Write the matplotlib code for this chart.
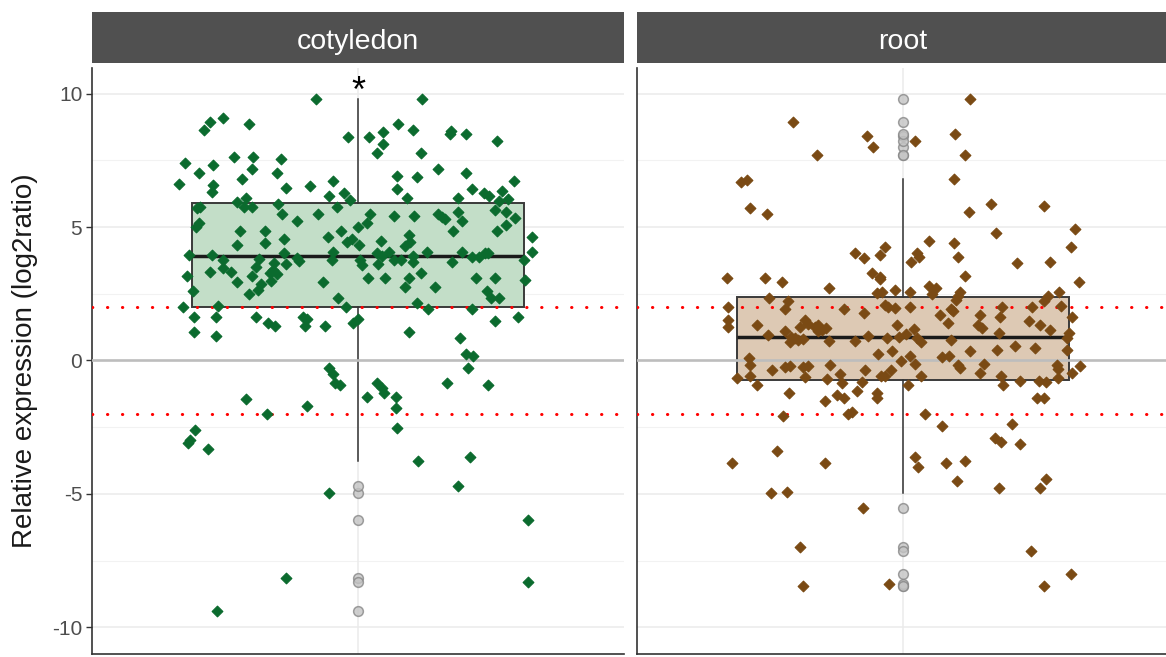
import numpy as np
import matplotlib.pyplot as plt

plt.rcParams['font.family'] = ['Liberation Sans', 'DejaVu Sans']
plt.rcParams['axes.unicode_minus'] = False

# facet names
tissues = ['cotyledon', 'root']

# jitter offsets (category units) and log2 ratios
cot_x = [-0.095, -0.305, -0.334, -0.348, -0.246, -0.023, -0.391, -0.327, -0.280, -0.237,
         -0.174, -0.239, -0.359, -0.183, -0.404, -0.327, -0.330, -0.262, -0.163, -0.108,
         -0.056, -0.065, -0.032, -0.018, -0.273, -0.253, -0.257, -0.239, -0.357, -0.363,
         -0.181, -0.047, -0.172, -0.090, -0.138, -0.359, -0.366, -0.266, -0.210, -0.038,
         0.0, -0.068, -0.167, -0.014, -0.025, -0.273, -0.210, -0.056, -0.167, -0.381,
         -0.330, -0.059, -0.138, -0.133, -0.305, -0.223, 0.005, -0.163, -0.305, -0.230,
         -0.190, -0.334, -0.287, -0.192, -0.199, -0.239, -0.386, -0.183, -0.273, -0.196,
         -0.079, -0.219, -0.226, -0.372, -0.246, -0.045, -0.395, -0.316, -0.027, -0.370,
         -0.321, -0.230, -0.124, -0.115, -0.203, -0.187, -0.120, -0.074, -0.011, -0.370, -0.321,
         0.145, 0.090, 0.025, 0.056, 0.056, 0.042, 0.123, 0.141, 0.210, 0.208,
         0.244, 0.313, 0.180, 0.244, 0.089, 0.133, 0.089, 0.257, 0.111, 0.351,
         0.324, 0.285, 0.296, 0.226, 0.317, 0.338, 0.026, 0.021, 0.081, 0.127,
         0.181, 0.190, 0.196, 0.226, 0.235, 0.308, 0.333, 0.354, 0.333, 0.214,
         0.313, 0.114, 0.117, 0.106, 0.051, 0.003, 0.392, 0.393, 0.042, 0.071,
         0.155, 0.234, 0.054, 0.082, 0.097, 0.125, 0.123, 0.010, 0.046, 0.212,
         0.257, 0.272, 0.287, 0.294, 0.375, 0.142, 0.022, 0.061, 0.115, 0.266,
         0.308, 0.377, 0.106, 0.174, 0.291, 0.300, 0.317, 0.133, 0.158, 0.258,
         -0.001, 0.308, 0.360, 0.115, 0.230, 0.244, 0.260,
         -0.065, -0.056, -0.041, -0.052, -0.253, -0.116, -0.206, -0.368, -0.378, -0.383,
         -0.338, -0.065, -0.163, -0.317,
         0.248, 0.042, 0.054, 0.059, 0.021, 0.085, 0.085, 0.201, 0.294, 0.089,
         0.136, 0.253, 0.226, 0.383, 0.383]
cot_y = [9.79, 9.10, 8.95, 8.64, 8.86, 8.39, 7.41, 7.33, 7.64, 7.64,
         7.55, 7.17, 7.02, 7.02, 6.62, 6.58, 6.33, 6.79, 6.48, 6.54,
         6.74, 6.17, 6.27, 6.02, 5.95, 6.10, 5.76, 5.76, 5.76, 5.72,
         5.85, 5.76, 5.48, 5.48, 5.24, 5.17, 5.01, 4.87, 4.87, 4.87,
         5.01, 4.64, 4.54, 4.54, 4.45, 4.33, 4.42, 4.08, 4.02, 3.95,
         3.95, 3.77, 3.83, 3.74, 3.77, 3.79, 3.77, 3.62, 3.46, 3.49,
         3.64, 3.33, 3.33, 3.39, 3.27, 3.17, 3.17, 3.24, 2.94, 2.99,
         2.94, 2.87, 2.64, 2.62, 2.48, 2.33, 1.99, 2.04, 2.02, 1.62,
         1.62, 1.62, 1.62, 1.54, 1.39, 1.29, 1.29, 1.29, 1.39, 1.08, 0.92,
         9.79, 8.86, 8.39, 8.55, 8.10, 7.79, 8.64, 7.79, 8.61, 8.48,
         8.49, 8.24, 7.17, 7.02, 6.93, 6.87, 6.42, 6.42, 6.10, 6.73,
         6.35, 6.27, 6.18, 6.10, 5.99, 6.04, 5.49, 5.17, 5.42, 5.42,
         5.49, 5.37, 5.29, 5.58, 5.24, 5.64, 5.57, 5.33, 5.08, 4.87,
         4.85, 4.70, 4.45, 4.30, 4.48, 4.33, 4.64, 4.08, 4.02, 4.08,
         4.08, 4.08, 3.92, 3.77, 3.77, 3.92, 3.70, 3.58, 3.62, 3.70,
         3.87, 3.87, 4.02, 4.02, 3.77, 3.27, 3.08, 3.08, 3.08, 3.08,
         3.08, 3.02, 2.77, 2.77, 2.62, 2.33, 2.33, 2.17, 1.92, 1.92,
         1.54, 1.48, 1.62, 1.08, 0.85, 0.24, 0.17,
         -0.29, -0.52, -0.92, -0.84, -1.45, -1.69, -2.01, -2.60, -2.98, -3.08,
         -3.32, -4.98, -8.16, -9.39,
         -0.29, -0.83, -1.04, -1.23, -1.38, -1.38, -1.77, -0.83, -0.92, -2.52,
         -3.77, -3.61, -4.69, -5.99, -8.31]

root_x = [-0.247, -0.195, -0.082, -0.067, -0.365, -0.351, -0.345, -0.306, -0.396, -0.311,
          -0.272, -0.168, -0.108, -0.087, -0.053, -0.040, -0.070, -0.053, -0.053, -0.018,
          0.152, 0.028, 0.118, 0.139, 0.114, 0.199, 0.319, 0.148, 0.210, 0.387,
          0.379, 0.058, 0.114, 0.031, 0.037, 0.019, 0.125, 0.258, 0.332, 0.139,
          0.396, 0.058, 0.074, 0.128, 0.124, 0.119, 0.353, 0.327, 0.317, -0.059,
          -0.048, 0.016, 0.065,
          -0.302, -0.260, -0.266, -0.395, -0.395, -0.395, -0.134, -0.088, -0.040, -0.033,
          -0.018, -0.330, -0.221, -0.215, -0.198, -0.191, -0.183, -0.174, -0.191, -0.232,
          -0.267, -0.305, -0.252, -0.243, -0.255, -0.225, -0.236, -0.168, -0.108, -0.078,
          -0.037, -0.010, -0.014, -0.057, -0.024, -0.004, -0.347, -0.345, -0.296, -0.266,
          -0.255, -0.225, -0.215, -0.164, -0.085, -0.027, -0.374, -0.344, -0.222, -0.172,
          -0.142, -0.137, -0.093, -0.049, -0.040, -0.330,
          0.016, 0.109, 0.112, 0.223, 0.174, 0.084, 0.101, 0.219, 0.291, 0.357,
          0.381, 0.285, 0.310, 0.332, 0.169, 0.178, 0.024, 0.006, 0.216, 0.374,
          0.370, 0.031, 0.041, 0.109, 0.152, 0.212, 0.253, 0.297, 0.370, 0.016,
          0.088, 0.104, 0.028, 0.125, 0.129, 0.182, 0.174, 0.347, 0.349, 0.400,
          0.381, 0.041, 0.222, 0.263, 0.306, 0.323, 0.349, 0.011, 0.225,
          -0.104, -0.059, -0.058, -0.258, -0.177, -0.149, -0.134, -0.271, -0.116, -0.123,
          -0.285, -0.386, -0.177, -0.298, -0.262, -0.091, -0.232, -0.225, -0.031, 0.302,
          0.319, 0.050, 0.088, 0.246, 0.208, 0.222, 0.263, 0.028, 0.033, 0.098,
          0.139, 0.121, 0.216, 0.310, 0.323, 0.289, 0.379, 0.319]
root_y = [8.94, 7.70, 8.41, 8.01, 6.69, 6.78, 5.73, 5.48, 3.08, 3.08,
          2.95, 2.71, 4.02, 3.85, 3.95, 4.27, 3.27, 3.14, 3.04, 2.64,
          9.79, 8.24, 8.48, 7.70, 6.79, 5.87, 5.79, 5.55, 4.79, 4.93,
          4.24, 4.48, 4.39, 4.04, 3.87, 3.70, 3.87, 3.64, 3.70, 3.17,
          2.95, 2.79, 2.71, 2.58, 2.42, 2.27, 2.58, 2.42, 2.24, 2.52,
          2.58, 2.57, 2.49,
          2.34, 2.24, 1.94, 1.99, 1.53, 1.24, 1.94, 1.78, 2.09, 1.99,
          1.97, 1.32, 1.53, 1.37, 1.24, 1.34, 1.15, 1.22, 1.09, 1.24,
          1.09, 0.94, 0.87, 0.84, 0.69, 0.82, 0.78, 0.72, 0.74, 0.91,
          0.84, 0.87, 1.32, 0.24, 0.34, -0.01, 0.09, -0.18, -0.34, -0.25,
          -0.22, -0.25, -0.22, -0.18, -0.34, -0.34, -0.66, -0.59, -0.63, -0.68,
          -0.51, -0.84, -0.81, -0.59, -0.59, -0.91,
          1.99, 1.94, 1.84, 1.99, 1.72, 1.72, 1.41, 1.62, 1.99, 2.03,
          1.62, 1.47, 1.34, 1.15, 1.34, 1.22, 1.19, 0.99, 1.03, 1.03,
          0.84, 0.84, 0.69, 0.78, 0.34, 0.40, 0.53, 0.47, 0.40, 0.16,
          0.12, 0.16, -0.13, -0.18, -0.28, -0.13, -0.47, -0.18, -0.31, -0.22,
          -0.47, -0.59, -0.59, -0.76, -0.76, -0.81, -0.66, -0.93, -0.93,
          -1.14, -1.23, -1.39, -1.23, -1.52, -1.29, -1.39, -2.07, -1.92, -2.02,
          -3.38, -3.83, -3.83, -4.98, -4.92, -5.54, -7.00, -8.45, -8.39, -1.39,
          -1.39, -2.01, -2.45, -2.38, -2.89, -3.07, -3.14, -3.61, -4.00, -3.83,
          -3.77, -4.52, -4.77, -4.77, -4.45, -7.14, -8.00, -8.45]

# quartiles (q1, median, q3)
cot_box = [1.99, 3.93, 5.91]
root_box = [-0.73, 0.87, 2.37]

point_colors = ['#0B6B2E', '#7A4A14']
fill_colors = ['#C3DEC8', '#DDC9B4']
cutoff = 2

W, H = 1166, 657
fig = plt.figure(figsize=(W / 100, H / 100), dpi=100)


def rect(x0, y0, x1, y1):
    return [x0 / W, 1 - y1 / H, (x1 - x0) / W, (y1 - y0) / H]


def box_stats(y, q):
    y = np.asarray(y)
    iqr = q[2] - q[0]
    lo = y[y >= q[0] - 1.5 * iqr].min()
    hi = y[y <= q[2] + 1.5 * iqr].max()
    return dict(q1=q[0], med=q[1], q3=q[2], whislo=lo, whishi=hi,
                fliers=y[(y < lo) | (y > hi)])


panel_x = [(92, 624), (637, 1169)]
data = [(cot_x, cot_y, cot_box), (root_x, root_y, root_box)]

for i, name in enumerate(tissues):
    x0, x1 = panel_x[i]
    xs, ys, q = data[i]
    ax = fig.add_axes(rect(x0, 68, x1, 654))
    ax.set_xlim(0.4, 1.6)
    ax.set_ylim(-11.0, 10.96)

    for v in [-7.5, -2.5, 2.5, 7.5]:
        ax.axhline(v, color='#F2F2F2', lw=0.8, zorder=0)
    for v in [-10, -5, 5, 10]:
        ax.axhline(v, color='#EBEBEB', lw=1.1, zorder=0)
    ax.axvline(1, color='#EBEBEB', lw=1.1, zorder=0)

    st = box_stats(ys, q)
    ax.bxp([st], positions=[1], widths=0.75, patch_artist=True, showcaps=False,
           boxprops=dict(facecolor=fill_colors[i], edgecolor='#3a3a3a', lw=1.4),
           medianprops=dict(color='#1a1a1a', lw=2.5),
           whiskerprops=dict(color='#333333', lw=1.1),
           flierprops=dict(marker='o', markersize=7, markerfacecolor='#c4c4c4',
                           markeredgecolor='#888888', markeredgewidth=1.1, alpha=0.8),
           zorder=2)

    ax.axhline(0, color='#BDBDBD', lw=1.9, zorder=3)
    for v in [cutoff, -cutoff]:
        ax.axhline(v, color='red', lw=2.2, ls=(0, (0.1, 4.8)),
                   dash_capstyle='round', zorder=3)

    ax.scatter(1 + np.asarray(xs), ys, marker='D', s=30, color=point_colors[i],
               edgecolors=point_colors[i], linewidths=0.8, zorder=4)

    for s in ['top', 'right']:
        ax.spines[s].set_visible(False)
    for s in ['left', 'bottom']:
        ax.spines[s].set_color('#333333')
        ax.spines[s].set_linewidth(1.2)
    ax.set_xticks([])
    ax.set_yticks([-10, -5, 0, 5, 10])
    if i == 0:
        ax.tick_params(axis='y', length=4, width=1, color='#333333',
                       labelcolor='#4D4D4D', labelsize=15, pad=3)
        ax.set_ylabel('Relative expression (log2ratio)', fontsize=20,
                      color='#1A1A1A', labelpad=10)
        ax.text(1, 10.05, '*', ha='center', va='center', fontsize=26, color='black')
    else:
        ax.tick_params(axis='y', length=0, labelleft=False)

    sax = fig.add_axes(rect(x0, 12, x1, 63))
    sax.set_facecolor('#505050')
    sax.set_xticks([])
    sax.set_yticks([])
    for s in sax.spines.values():
        s.set_visible(False)
    sax.text(0.5, 0.42, name, ha='center', va='center', color='white',
             fontsize=20.5, transform=sax.transAxes)

fig.savefig('out.png', dpi=100)
